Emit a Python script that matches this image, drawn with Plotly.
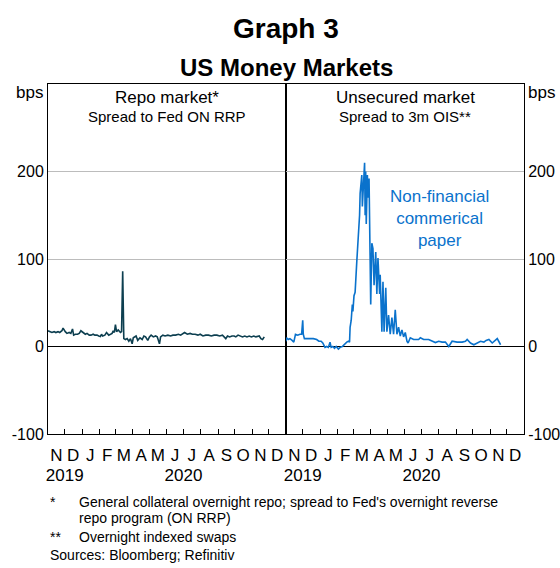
import plotly.graph_objects as go

# ---------------- data ----------------
repo_dates = ["2019-11-01","2019-11-05","2019-11-08","2019-11-12","2019-11-15","2019-11-19","2019-11-22","2019-11-26","2019-11-28",
    "2019-12-02","2019-12-05","2019-12-09","2019-12-12","2019-12-15","2019-12-17","2019-12-20","2019-12-24","2019-12-27","2019-12-30",
    "2020-01-03","2020-01-07","2020-01-10","2020-01-14","2020-01-17","2020-01-21","2020-01-24","2020-01-28","2020-01-31",
    "2020-02-03","2020-02-05","2020-02-07","2020-02-11","2020-02-14","2020-02-18","2020-02-21","2020-02-24","2020-02-26","2020-02-28",
    "2020-03-01","2020-03-03","2020-03-06","2020-03-10","2020-03-12","2020-03-14","2020-03-16","2020-03-19","2020-03-22","2020-03-25","2020-03-28","2020-03-31",
    "2020-04-02","2020-04-07","2020-04-10","2020-04-14","2020-04-18","2020-04-21","2020-04-24","2020-04-28",
    "2020-05-01","2020-05-04","2020-05-08","2020-05-12","2020-05-15","2020-05-19","2020-05-21","2020-05-25","2020-05-29",
    "2020-06-03","2020-06-08","2020-06-12","2020-06-17","2020-06-22","2020-06-26","2020-06-30",
    "2020-07-03","2020-07-08","2020-07-13","2020-07-17","2020-07-22","2020-07-27","2020-07-31",
    "2020-08-05","2020-08-10","2020-08-15","2020-08-20","2020-08-25","2020-08-30",
    "2020-09-04","2020-09-09","2020-09-15","2020-09-18","2020-09-22","2020-09-26","2020-09-30",
    "2020-10-03","2020-10-07","2020-10-11","2020-10-15","2020-10-19","2020-10-23","2020-10-27","2020-10-31",
    "2020-11-04","2020-11-08","2020-11-14","2020-11-17","2020-11-20","2020-11-23"]
repo_values = [18,17,16,17,16,17,16,18,21,
    17,15,16,15,20,13,14,14,15,18,
    16,14,15,13,13,14,13,13,12,
    11.5,14,12,13,16,13,14,15,18,16,
    25,17,19,16,17,86,9,8,9,6,9,3,
    10,12,7,10,8,12,11,7,
    11,13,11,12,11,3,11,13,12,
    13,12,13,13,14,13,15,
    16,14,15,14,14,13,14,
    12,13,13,12,13,13,
    12,13,9,12,11,12,12,
    11,13,12,11,12,11,12,11,
    12,11,12,9,8,11]

cp_dates = ["2019-11-01","2019-11-02","2019-11-05","2019-11-08","2019-11-12","2019-11-15","2019-11-18","2019-11-22","2019-11-26","2019-11-29",
    "2019-12-01","2019-12-02","2019-12-04","2019-12-10","2019-12-16","2019-12-20","2019-12-26","2019-12-30",
    "2020-01-03","2020-01-06","2020-01-10","2020-01-13","2020-01-16","2020-01-19","2020-01-21","2020-01-24","2020-01-27","2020-01-30",
    "2020-02-03","2020-02-06","2020-02-10","2020-02-14","2020-02-18","2020-02-21","2020-02-23","2020-02-24","2020-02-26","2020-02-28","2020-02-29",
    "2020-03-02","2020-03-04","2020-03-07","2020-03-09","2020-03-12","2020-03-13","2020-03-14","2020-03-16","2020-03-17","2020-03-19",
    "2020-03-21","2020-03-22","2020-03-23","2020-03-24","2020-03-26","2020-03-27","2020-03-29",
    "2020-04-01","2020-04-03","2020-04-05","2020-04-07","2020-04-10","2020-04-12","2020-04-14","2020-04-17","2020-04-18",
    "2020-04-21","2020-04-23","2020-04-25","2020-04-28","2020-04-30",
    "2020-05-03","2020-05-06","2020-05-09","2020-05-12","2020-05-15","2020-05-18","2020-05-21","2020-05-24","2020-05-27","2020-05-30",
    "2020-06-02","2020-06-05","2020-06-07","2020-06-11","2020-06-17","2020-06-26","2020-06-29",
    "2020-07-05","2020-07-14","2020-07-20","2020-07-26","2020-08-01","2020-08-07","2020-08-13","2020-08-19","2020-08-25",
    "2020-09-03","2020-09-12","2020-09-18","2020-09-21","2020-09-27","2020-10-03","2020-10-09","2020-10-15","2020-10-21",
    "2020-10-25","2020-10-30","2020-11-05","2020-11-14","2020-11-17","2020-11-20"]
cp_values = [6,10,8,9,7,5,14,13,14,14,
    30,14,9,9,9,9,8,6,
    6,4,-1,0,-1,5,-1,0,-2,0,
    -3,-1,0,3,5,6,5,22,30,48,40,
    58,62,97,115,150,175,185,196,160,190,
    210,150,200,140,196,170,192,
    48,118,112,70,108,60,101,60,82,
    17,74,17,67,17,
    36,14,33,14,42,14,22,12,19,11,
    16,6,4,10,8,8,10,
    8,8,6,4.5,6,5,5,0,6,
    5,5,6,8,4,2,4,6,5,
    7,8,4,9,5,2]

month_mid = ["2019-11-16","2019-12-16","2020-01-16","2020-02-15","2020-03-16","2020-04-16","2020-05-16",
             "2020-06-16","2020-07-16","2020-08-16","2020-09-16","2020-10-16","2020-11-16","2020-12-16"]
month_letters = ["N","D","J","F","M","A","M","J","J","A","S","O","N","D"]
year_pos = ["2019-12-01","2020-07-01"]
year_labels = ["2019","2020"]
y_ticks = [-100, 0, 100, 200]
y_ticktext = ["-100", "0", "100", "200"]
x_range = ["2019-11-01", "2021-01-01"]
y_range = [-100, 300]

FONT = "Arial, Liberation Sans, sans-serif"
REPO_COLOR = "#0d3f50"
CP_COLOR = "#0a72cc"
GRID = "#bcbcbc"

fig = go.Figure()
fig.add_trace(go.Scatter(x=repo_dates, y=repo_values, xaxis="x", yaxis="y", mode="lines",
                         line=dict(color=REPO_COLOR, width=1.6), showlegend=False, hoverinfo="skip"))
fig.add_trace(go.Scatter(x=cp_dates, y=cp_values, xaxis="x2", yaxis="y2", mode="lines",
                         line=dict(color=CP_COLOR, width=1.6), showlegend=False, hoverinfo="skip"))
# invisible anchors so overlay label axes are drawn
for xa, ya in [("x3", "y"), ("x5", "y"), ("x4", "y2"), ("x6", "y2")]:
    fig.add_trace(go.Scatter(x=[x_range[0]], y=[None], xaxis=xa, yaxis=ya, mode="markers",
                             marker=dict(opacity=0), showlegend=False, hoverinfo="skip"))

def boundary_axis(domain, anchor):
    return dict(domain=domain, anchor=anchor, type="date", range=x_range, automargin=False,
                tickmode="linear", tick0="2019-11-01", dtick="M1",
                ticks="inside", ticklen=5, tickcolor="black", tickwidth=1,
                showticklabels=False, showgrid=False, zeroline=False,
                showline=True, linecolor="black", linewidth=1, mirror=True)

def letters_axis(over, anchor):
    return dict(overlaying=over, anchor=anchor, type="date", range=x_range, automargin=False,
                tickmode="array", tickvals=month_mid, ticktext=month_letters,
                ticks="outside", ticklen=6, tickcolor="rgba(0,0,0,0)",
                tickfont=dict(size=17, color="black", family=FONT),
                showgrid=False, zeroline=False, showline=False)

def years_axis(over, anchor):
    return dict(overlaying=over, anchor=anchor, type="date", range=x_range, automargin=False,
                tickmode="array", tickvals=year_pos, ticktext=year_labels,
                ticks="outside", ticklen=26, tickcolor="rgba(0,0,0,0)",
                tickfont=dict(size=17, color="black", family=FONT),
                showgrid=False, zeroline=False, showline=False)

def y_axis(anchor, side):
    return dict(anchor=anchor, side=side, range=y_range, automargin=False,
                tickmode="array", tickvals=y_ticks, ticktext=y_ticktext,
                ticks="", tickfont=dict(size=16, color="black", family=FONT),
                showgrid=True, gridcolor=GRID, gridwidth=1,
                zeroline=True, zerolinecolor="black", zerolinewidth=1,
                showline=True, linecolor="black", linewidth=1, mirror=True)

fig.update_layout(
    width=560, height=568,
    margin=dict(l=48, r=36, t=84, b=134, autoexpand=False),
    paper_bgcolor="white", plot_bgcolor="white",
    font=dict(family=FONT, color="black"),
    xaxis=boundary_axis([0, 0.5], "y"),
    xaxis2=boundary_axis([0.5, 1], "y2"),
    xaxis3=letters_axis("x", "y"),
    xaxis4=letters_axis("x2", "y2"),
    xaxis5=years_axis("x", "y"),
    xaxis6=years_axis("x2", "y2"),
    yaxis=y_axis("x", "left"),
    yaxis2=y_axis("x2", "right"),
)

def pabs(px):
    # convert pixel row to paper y
    return (434 - px) / 350.0

ann = [
    dict(text="<b>Graph 3</b>", x=0.5, y=pabs(28), size=28, xanchor="center"),
    dict(text="<b>US Money Markets</b>", x=0.5, y=pabs(68), size=24, xanchor="center"),
    dict(text="Repo market*", x=0.25, y=pabs(97), size=17, xanchor="center"),
    dict(text="Spread to Fed ON RRP", x=0.25, y=pabs(116), size=15, xanchor="center"),
    dict(text="Unsecured market", x=0.75, y=pabs(97), size=17, xanchor="center"),
    dict(text="Spread to 3m OIS**", x=0.75, y=pabs(116), size=15, xanchor="center"),
    dict(text="bps", x=-0.006, y=pabs(92), size=17, xanchor="right"),
    dict(text="bps", x=1.005, y=pabs(92), size=17, xanchor="left"),
    dict(text="*", x=0.0, y=pabs(502), size=14, xanchor="left"),
    dict(text="General collateral overnight repo; spread to Fed's overnight reverse", x=0.061, y=pabs(502), size=14, xanchor="left"),
    dict(text="repo program (ON RRP)", x=0.061, y=pabs(518), size=14, xanchor="left"),
    dict(text="**", x=0.0, y=pabs(537), size=14, xanchor="left"),
    dict(text="Overnight indexed swaps", x=0.061, y=pabs(537), size=14, xanchor="left"),
    dict(text="Sources: Bloomberg; Refinitiv", x=0.0, y=pabs(555), size=14, xanchor="left"),
]
for a in ann:
    fig.add_annotation(text=a["text"], x=a["x"], y=a["y"], xref="paper", yref="paper",
                       xanchor=a["xanchor"], yanchor="middle", showarrow=False,
                       font=dict(size=a["size"], color="black", family=FONT))

fig.add_annotation(text="Non-financial<br>commerical<br>paper", x=(439 - 48) / 476.0, y=pabs(218),
                   xref="paper", yref="paper", xanchor="center", yanchor="middle", showarrow=False,
                   font=dict(size=17, color=CP_COLOR, family=FONT))

fig.write_html("out.html", config={"displayModeBar": False},
               post_script="document.body.style.margin='0';document.body.style.padding='0';document.body.style.overflow='hidden';")
